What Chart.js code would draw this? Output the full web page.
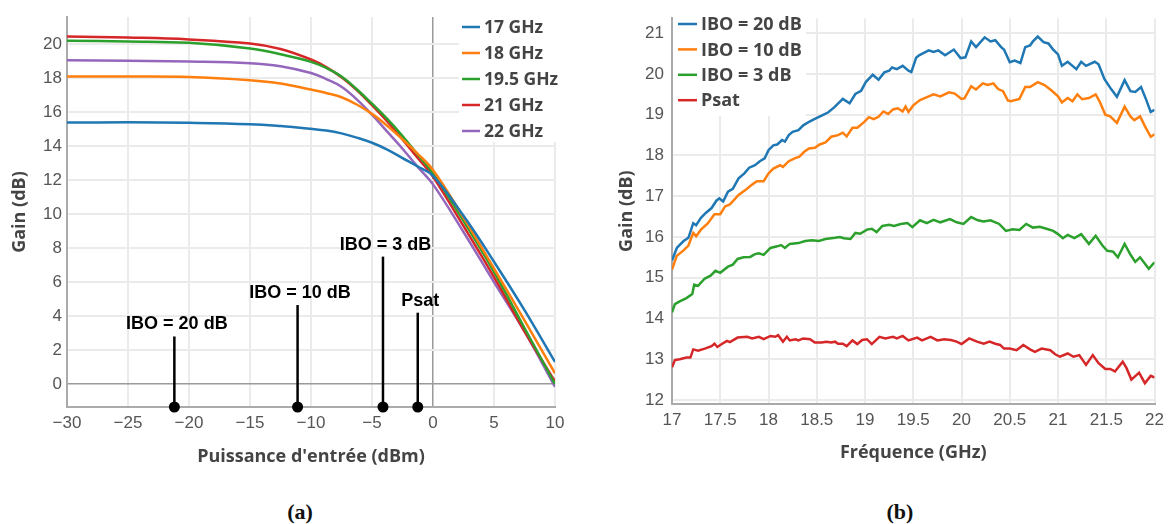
<!DOCTYPE html>
<html>
<head>
<meta charset="utf-8">
<script src="https://cdn.jsdelivr.net/npm/chart.js@4.4.0/dist/chart.umd.min.js"></script>
<style>
  body { margin: 0; background: #fff; width: 1170px; height: 524px; position: relative; overflow: hidden; }
  .panel { position: absolute; top: 0; width: 585px; height: 480px; }
  .cap { position: absolute; top: 499px; width: 80px; text-align: center; font: bold 22px "Liberation Serif", serif; color: #111; }
</style>
</head>
<body>
<div class="panel" style="left:0"><canvas id="chartA"></canvas></div>
<div class="panel" style="left:585px"><canvas id="chartB"></canvas></div>
<div class="cap" style="left:260px">(a)</div>
<div class="cap" style="left:860px">(b)</div>
<script>
// ---- (a) gain vs input power ----
const inputPower = [-30, -25, -20, -15, -12.5, -10, -8.75, -7.5, -6.25, -5, -3.75, -2.5, -1.25, 0, 2.5, 5, 7.5, 10];
const gain17 = [15.39, 15.40, 15.37, 15.29, 15.18, 15.02, 14.92, 14.75, 14.5, 14.2, 13.8, 13.3, 12.8, 12.25, 9.9, 7.2, 4.35, 1.3];
const gain18 = [18.1, 18.1, 18.07, 17.88, 17.69, 17.33, 17.13, 16.88, 16.45, 15.9, 15.2, 14.4, 13.55, 12.6, 9.8, 6.8, 3.75, 0.63];
const gain195 = [20.2, 20.16, 20.08, 19.75, 19.41, 18.96, 18.6, 18.1, 17.35, 16.5, 15.6, 14.6, 13.5, 12.4, 9.6, 6.6, 3.3, 0.0];
const gain21 = [20.45, 20.39, 20.28, 20.04, 19.72, 19.1, 18.65, 18.05, 17.3, 16.41, 15.45, 14.4, 13.3, 12.2, 9.3, 6.3, 3.1, 0.15];
const gain22 = [19.05, 19.02, 18.98, 18.88, 18.7, 18.3, 17.95, 17.5, 16.75, 15.85, 14.85, 13.85, 12.78, 11.75, 8.95, 6.0, 3.1, -0.16];
const labelsA = ['17 GHz', '18 GHz', '19.5 GHz', '21 GHz', '22 GHz'];

const markerPower = [-21.2, -11.1, -4.1, -1.25];
const markerTop = [2.8, 4.65, 7.5, 4.2];
const markerLabels = ['IBO = 20 dB', 'IBO = 10 dB', 'IBO = 3 dB', 'Psat'];

const xTicksA = [-30, -25, -20, -15, -10, -5, 0, 5, 10];
const yTicksA = [0, 2, 4, 6, 8, 10, 12, 14, 16, 18, 20];

// ---- (b) gain vs frequency ----
const freqIbo20 = [17.0, 17.05, 17.12, 17.17, 17.22, 17.25, 17.3, 17.35, 17.41, 17.46, 17.49, 17.53, 17.58, 17.63, 17.69, 17.75, 17.8, 17.86, 17.91, 17.96, 18.0, 18.05, 18.09, 18.14, 18.17, 18.21, 18.25, 18.31, 18.36, 18.43, 18.48, 18.55, 18.62, 18.68, 18.77, 18.84, 18.9, 18.96, 19.01, 19.08, 19.14, 19.2, 19.25, 19.28, 19.33, 19.39, 19.45, 19.48, 19.53, 19.56, 19.66, 19.71, 19.76, 19.83, 19.92, 19.99, 20.04, 20.1, 20.15, 20.24, 20.3, 20.35, 20.41, 20.44, 20.5, 20.55, 20.61, 20.66, 20.71, 20.74, 20.79, 20.85, 20.9, 20.95, 21.0, 21.04, 21.1, 21.19, 21.24, 21.29, 21.38, 21.42, 21.48, 21.55, 21.61, 21.69, 21.75, 21.8, 21.86, 21.91, 21.96, 22.0];
const gainIbo20 = [15.42, 15.73, 15.9, 15.98, 16.34, 16.29, 16.47, 16.59, 16.71, 16.89, 16.95, 16.87, 17.11, 17.18, 17.44, 17.56, 17.7, 17.76, 17.86, 17.93, 18.13, 18.25, 18.27, 18.38, 18.34, 18.5, 18.58, 18.62, 18.74, 18.84, 18.9, 18.98, 19.06, 19.18, 19.39, 19.28, 19.51, 19.59, 19.81, 19.98, 19.86, 20.04, 20.08, 20.16, 20.12, 20.2, 20.08, 20.05, 20.4, 20.46, 20.58, 20.54, 20.58, 20.46, 20.6, 20.39, 20.41, 20.8, 20.66, 20.9, 20.8, 20.83, 20.66, 20.6, 20.29, 20.33, 20.27, 20.66, 20.7, 20.8, 20.92, 20.78, 20.75, 20.6, 20.48, 20.2, 20.3, 20.12, 20.3, 20.2, 20.3, 20.24, 19.88, 19.63, 19.44, 19.85, 19.58, 19.56, 19.68, 19.39, 19.07, 19.12];

const freqIbo10 = [17.0, 17.05, 17.12, 17.17, 17.22, 17.25, 17.3, 17.37, 17.44, 17.5, 17.55, 17.6, 17.69, 17.76, 17.82, 17.88, 17.95, 18.0, 18.05, 18.12, 18.15, 18.21, 18.27, 18.32, 18.37, 18.42, 18.48, 18.53, 18.59, 18.65, 18.72, 18.77, 18.81, 18.87, 18.92, 18.99, 19.04, 19.09, 19.14, 19.19, 19.24, 19.29, 19.34, 19.39, 19.42, 19.45, 19.5, 19.57, 19.63, 19.66, 19.71, 19.78, 19.87, 19.93, 20.0, 20.03, 20.1, 20.15, 20.22, 20.27, 20.33, 20.38, 20.43, 20.48, 20.51, 20.6, 20.66, 20.71, 20.79, 20.86, 20.93, 21.0, 21.04, 21.1, 21.15, 21.2, 21.25, 21.32, 21.39, 21.43, 21.49, 21.54, 21.61, 21.69, 21.75, 21.79, 21.85, 21.9, 21.96, 22.0];
const gainIbo10 = [15.2, 15.54, 15.67, 15.79, 16.1, 16.02, 16.18, 16.33, 16.56, 16.56, 16.75, 16.8, 17.03, 17.15, 17.27, 17.37, 17.37, 17.56, 17.68, 17.76, 17.72, 17.86, 17.93, 17.97, 18.09, 18.17, 18.19, 18.27, 18.32, 18.46, 18.5, 18.56, 18.47, 18.68, 18.68, 18.82, 18.94, 18.89, 18.95, 19.08, 19.02, 19.13, 19.16, 19.08, 19.2, 19.07, 19.23, 19.36, 19.42, 19.45, 19.5, 19.45, 19.55, 19.52, 19.39, 19.4, 19.7, 19.62, 19.77, 19.73, 19.77, 19.63, 19.58, 19.35, 19.33, 19.39, 19.68, 19.68, 19.8, 19.73, 19.6, 19.45, 19.3, 19.41, 19.33, 19.5, 19.38, 19.41, 19.5, 19.33, 19.0, 18.96, 18.8, 19.2, 18.96, 18.87, 18.96, 18.72, 18.46, 18.52];

const freqIbo3 = [17.0, 17.03, 17.08, 17.15, 17.21, 17.23, 17.27, 17.34, 17.4, 17.45, 17.5, 17.58, 17.63, 17.68, 17.74, 17.81, 17.86, 17.9, 17.95, 18.02, 18.09, 18.13, 18.17, 18.22, 18.31, 18.38, 18.45, 18.52, 18.59, 18.69, 18.74, 18.78, 18.85, 18.9, 18.95, 19.02, 19.07, 19.12, 19.18, 19.25, 19.3, 19.37, 19.44, 19.49, 19.57, 19.64, 19.71, 19.78, 19.88, 19.95, 20.02, 20.1, 20.17, 20.23, 20.3, 20.39, 20.46, 20.53, 20.6, 20.67, 20.74, 20.81, 20.88, 20.95, 21.0, 21.05, 21.1, 21.17, 21.24, 21.32, 21.39, 21.46, 21.51, 21.57, 21.62, 21.69, 21.75, 21.8, 21.85, 21.94, 22.0];
const gainIbo3 = [14.15, 14.35, 14.42, 14.5, 14.6, 14.83, 14.8, 14.98, 15.05, 15.17, 15.12, 15.27, 15.32, 15.46, 15.5, 15.51, 15.58, 15.6, 15.56, 15.73, 15.77, 15.8, 15.73, 15.83, 15.85, 15.9, 15.92, 15.9, 15.95, 15.98, 16.0, 15.97, 15.95, 16.1, 16.08, 16.18, 16.2, 16.12, 16.27, 16.3, 16.27, 16.32, 16.34, 16.24, 16.41, 16.34, 16.42, 16.36, 16.44, 16.36, 16.32, 16.49, 16.41, 16.38, 16.41, 16.32, 16.15, 16.19, 16.17, 16.32, 16.23, 16.25, 16.2, 16.15, 16.07, 15.97, 16.05, 15.97, 16.07, 15.83, 16.03, 15.79, 15.66, 15.64, 15.5, 15.83, 15.57, 15.39, 15.5, 15.22, 15.38];

const freqPsat = [17.0, 17.03, 17.08, 17.15, 17.19, 17.22, 17.27, 17.34, 17.41, 17.44, 17.47, 17.52, 17.57, 17.6, 17.68, 17.78, 17.83, 17.9, 17.95, 18.02, 18.07, 18.1, 18.15, 18.19, 18.22, 18.28, 18.31, 18.36, 18.43, 18.48, 18.55, 18.6, 18.65, 18.69, 18.72, 18.77, 18.81, 18.87, 18.92, 18.97, 19.02, 19.07, 19.15, 19.21, 19.29, 19.33, 19.39, 19.45, 19.54, 19.59, 19.68, 19.75, 19.82, 19.89, 19.95, 20.0, 20.08, 20.16, 20.23, 20.29, 20.35, 20.4, 20.44, 20.5, 20.57, 20.64, 20.71, 20.76, 20.83, 20.92, 20.97, 21.02, 21.1, 21.16, 21.22, 21.29, 21.36, 21.42, 21.49, 21.54, 21.59, 21.67, 21.71, 21.76, 21.84, 21.9, 21.96, 22.0];
const gainPsat = [12.8, 12.98, 13.0, 13.04, 13.04, 13.24, 13.21, 13.26, 13.32, 13.38, 13.3, 13.38, 13.45, 13.42, 13.53, 13.55, 13.51, 13.55, 13.49, 13.57, 13.55, 13.59, 13.43, 13.55, 13.46, 13.49, 13.46, 13.51, 13.49, 13.41, 13.41, 13.43, 13.41, 13.43, 13.38, 13.38, 13.32, 13.46, 13.37, 13.47, 13.49, 13.37, 13.55, 13.51, 13.55, 13.51, 13.57, 13.46, 13.53, 13.46, 13.55, 13.46, 13.49, 13.47, 13.43, 13.37, 13.51, 13.43, 13.38, 13.43, 13.38, 13.35, 13.26, 13.26, 13.22, 13.35, 13.24, 13.18, 13.26, 13.22, 13.12, 13.06, 13.14, 13.06, 13.1, 12.86, 13.1, 12.9, 12.76, 12.76, 12.7, 12.94, 12.78, 12.5, 12.67, 12.41, 12.59, 12.55];
const labelsB = ['IBO = 20 dB', 'IBO = 10 dB', 'IBO = 3 dB', 'Psat'];

const xTicksB = [17, 17.5, 18, 18.5, 19, 19.5, 20, 20.5, 21, 21.5, 22];
const yTicksB = [12, 13, 14, 15, 16, 17, 18, 19, 20, 21];

const colors = ['#1f77b4', '#ff7f0e', '#2ca02c', '#d62728', '#9467bd'];

Chart.defaults.font.family = 'Liberation Sans';
Chart.defaults.color = '#555';

function series(label, xs, ys, color, tension) {
    return {
        label: label,
        data: xs.map((x, i) => ({ x: x, y: ys[i] })),
        borderColor: color,
        backgroundColor: color,
        borderWidth: 2.5,
        pointRadius: 0,
        fill: false,
        tension: tension,
    };
}

const minus = v => String(v).replace('-', '\u2212');

// legend drawn inside the plot, over the grid
const insideLegend = {
    id: 'insideLegend',
    beforeDatasetsDraw(chart, args, o) {
        const ctx = chart.ctx;
        ctx.save();
        ctx.fillStyle = '#fff';
        ctx.fillRect(o.box[0], o.box[1], o.box[2], o.box[3]);
        ctx.font = 'bold ' + o.size + 'px "Open Sans"';
        ctx.textBaseline = 'middle';
        ctx.textAlign = 'left';
        o.labels.forEach((txt, i) => {
            const y = o.y0 + i * o.step;
            ctx.strokeStyle = colors[i];
            ctx.lineWidth = 2.5;
            ctx.beginPath();
            ctx.moveTo(o.x0, y);
            ctx.lineTo(o.x0 + o.len, y);
            ctx.stroke();
            ctx.fillStyle = '#444';
            ctx.fillText(txt, o.x0 + o.len + 4, y + 1);
        });
        ctx.restore();
    }
};

// IBO / Psat labels above the marker stems
const markerText = {
    id: 'markerText',
    afterDatasetsDraw(chart) {
        const ctx = chart.ctx;
        const xs = chart.scales.x, ys = chart.scales.y;
        ctx.save();
        ctx.font = 'bold 18px "Liberation Sans"';
        ctx.fillStyle = '#000';
        ctx.textAlign = 'center';
        ctx.textBaseline = 'alphabetic';
        markerLabels.forEach((txt, i) => {
            ctx.fillText(txt, xs.getPixelForValue(markerPower[i]) + 2.5, ys.getPixelForValue(markerTop[i]) - 7);
        });
        ctx.restore();
    }
};

const gridColor = c => (c.tick && c.tick.value === 0) ? '#9a9a9a' : '#ebebeb';
const gridWidth = c => (c.tick && c.tick.value === 0) ? 1.5 : 2;
const titleFont = { family: 'Open Sans', size: 18, weight: 'bold' };

// ---- chart (a) ----
const yMinA = -1.35;
const dataA = [gain17, gain18, gain195, gain21, gain22].map((g, i) => series(labelsA[i], inputPower, g, colors[i], 0.4));
markerPower.forEach((p, i) => {
    dataA.push({
        label: markerLabels[i],
        data: [{ x: p, y: yMinA }, { x: p, y: markerTop[i] }],
        borderColor: '#000',
        backgroundColor: '#000',
        borderWidth: 2.5,
        pointRadius: [5.5, 0],
        pointBorderWidth: 0,
        clip: false,
    });
});

new Chart(document.getElementById('chartA'), {
    type: 'line',
    data: { datasets: dataA },
    options: {
        responsive: true,
        maintainAspectRatio: false,
        animation: false,
        layout: { padding: { top: 17, right: 30, left: 0, bottom: 0 } },
        plugins: {
            legend: { display: false },
            tooltip: { enabled: false },
            insideLegend: { box: [459, 0, 110, 142], x0: 462, y0: 27, step: 26, len: 18, size: 17.5, labels: labelsA },
        },
        scales: {
            x: {
                type: 'linear', min: -30, max: 10,
                afterBuildTicks: s => { s.ticks = xTicksA.map(v => ({ value: v })); },
                afterFit: s => { s.height = 73; },
                ticks: { callback: v => minus(v), font: { size: 17 }, padding: 6, maxRotation: 0 },
                grid: { color: gridColor, lineWidth: gridWidth, drawTicks: false },
                border: { color: '#aaa', width: 2 },
                title: { display: true, text: "Puissance d'entrée (dBm)", color: '#444', font: titleFont, padding: { top: 0, bottom: 12 } },
            },
            y: {
                type: 'linear', min: yMinA, max: 21.6,
                afterBuildTicks: s => { s.ticks = yTicksA.map(v => ({ value: v })); },
                afterFit: s => { s.width = 67; },
                ticks: { callback: v => minus(v), font: { size: 17 }, padding: 5 },
                grid: { color: gridColor, lineWidth: gridWidth, drawTicks: false },
                border: { color: '#aaa', width: 2 },
                title: { display: true, text: 'Gain (dB)', color: '#444', font: titleFont, padding: { top: 9, bottom: 0 } },
            },
        },
    },
    plugins: [insideLegend, markerText],
});

// ---- chart (b) ----
const dataB = [
    series(labelsB[0], freqIbo20, gainIbo20, colors[0], 0),
    series(labelsB[1], freqIbo10, gainIbo10, colors[1], 0),
    series(labelsB[2], freqIbo3, gainIbo3, colors[2], 0),
    series(labelsB[3], freqPsat, gainPsat, colors[3], 0),
];

new Chart(document.getElementById('chartB'), {
    type: 'line',
    data: { datasets: dataB },
    options: {
        responsive: true,
        maintainAspectRatio: false,
        animation: false,
        layout: { padding: { top: 15, right: 12, left: 0, bottom: 0 } },
        plugins: {
            legend: { display: false },
            tooltip: { enabled: false },
            insideLegend: { box: [88, 15, 133, 101], x0: 93, y0: 24, step: 25.4, len: 19, size: 18, labels: labelsB },
        },
        scales: {
            x: {
                type: 'linear', min: 17, max: 22,
                afterBuildTicks: s => { s.ticks = xTicksB.map(v => ({ value: v })); },
                afterFit: s => { s.height = 76; },
                ticks: { callback: v => String(v), font: { size: 17 }, padding: 6, maxRotation: 0 },
                grid: { color: '#ebebeb', lineWidth: 2, drawTicks: false },
                border: { color: '#aaa', width: 2 },
                title: { display: true, text: 'Fréquence (GHz)', color: '#444', font: titleFont, padding: { top: 0, bottom: 16 } },
            },
            y: {
                type: 'linear', min: 11.9, max: 21.37,
                afterBuildTicks: s => { s.ticks = yTicksB.map(v => ({ value: v })); },
                afterFit: s => { s.width = 87; },
                ticks: { callback: v => String(v), font: { size: 17 }, padding: 8 },
                grid: { color: '#ebebeb', lineWidth: 2, drawTicks: false },
                border: { color: '#aaa', width: 2 },
                title: { display: true, text: 'Gain (dB)', color: '#444', font: titleFont, padding: { top: 31, bottom: 0 } },
            },
        },
    },
    plugins: [insideLegend],
});
</script>
</body>
</html>
